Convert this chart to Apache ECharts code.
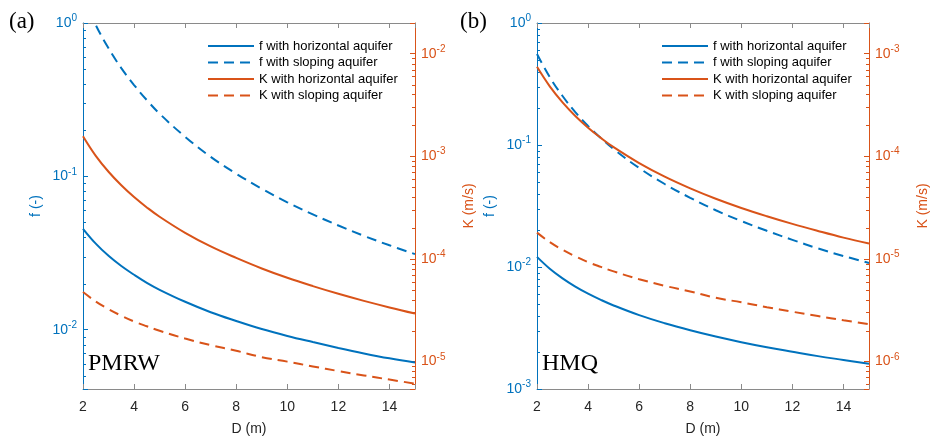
<!DOCTYPE html>
<html>
<head>
<meta charset="utf-8">
<script src="https://cdn.jsdelivr.net/npm/echarts@6/dist/echarts.min.js"></script>
<style>html,body{margin:0;padding:0;background:#fff}#main{width:931px;height:441px}</style>
</head>
<body>
<div id="main"></div>
<script>
var D = [2, 2.5, 3, 3.5, 4, 4.5, 5, 6, 7, 8, 9, 10, 11, 12, 13, 14, 15];

// (a) PMRW
var fHorA = [0.0455, 0.0364, 0.0303, 0.0260, 0.0228, 0.0202, 0.0182, 0.0152, 0.0130, 0.0114, 0.0101, 0.0091, 0.0083, 0.0076, 0.0070, 0.0065, 0.0061];
var fSlopeA = [1.49, 0.97, 0.684, 0.508, 0.394, 0.314, 0.256, 0.181, 0.134, 0.104, 0.083, 0.0677, 0.0565, 0.0478, 0.0409, 0.0355, 0.0311];
var kHorA = [1.57e-3, 1.01e-3, 7.06e-4, 5.21e-4, 4.00e-4, 3.17e-4, 2.57e-4, 1.79e-4, 1.32e-4, 1.02e-4, 8.05e-5, 6.53e-5, 5.42e-5, 4.56e-5, 3.89e-5, 3.36e-5, 2.93e-5];
var kSlopeA = [4.74e-5, 3.84e-5, 3.23e-5, 2.79e-5, 2.45e-5, 2.20e-5, 1.99e-5, 1.67e-5, 1.44e-5, 1.27e-5, 1.10e-5, 9.95e-6, 8.93e-6, 8.05e-6, 7.30e-6, 6.65e-6, 6.07e-6];

// (b) HMQ
var fHorB = [0.0121, 0.00968, 0.00807, 0.00691, 0.00605, 0.00538, 0.00484, 0.00403, 0.00346, 0.00303, 0.00269, 0.00242, 0.00220, 0.00202, 0.00186, 0.00173, 0.00161];
var fSlopeB = [0.557, 0.360, 0.252, 0.186, 0.143, 0.114, 0.0925, 0.0648, 0.0479, 0.0369, 0.0292, 0.0238, 0.0198, 0.0167, 0.0142, 0.0123, 0.0108];
var kHorB = [7.44e-4, 4.80e-4, 3.35e-4, 2.47e-4, 1.90e-4, 1.51e-4, 1.225e-4, 8.57e-5, 6.32e-5, 4.86e-5, 3.85e-5, 3.13e-5, 2.60e-5, 2.19e-5, 1.87e-5, 1.61e-5, 1.41e-5];
var kSlopeB = [1.80e-5, 1.455e-5, 1.224e-5, 1.057e-5, 9.29e-6, 8.34e-6, 7.54e-6, 6.33e-6, 5.46e-6, 4.81e-6, 4.17e-6, 3.77e-6, 3.38e-6, 3.05e-6, 2.77e-6, 2.52e-6, 2.30e-6];

var names = ['f with horizontal aquifer', 'f with sloping aquifer', 'K with horizontal aquifer', 'K with sloping aquifer'];
var panelTags = ['(a)', '(b)'];
var methods = ['PMRW', 'HMQ'];

// minor log ticks: mantissas and the decades each axis covers
var mant = [2, 3, 4, 5, 6, 7, 8, 9];
var decFA = [-3, -2, -1], decKA = [-6, -5, -4, -3, -2];
var decFB = [-3, -2, -1], decKB = [-7, -6, -5, -4, -3];

var BLUE = '#0072BD', ORANGE = '#D95319', GREY = '#8a8a8a';
var SANS = 'Liberation Sans, Arial, sans-serif';

var myChart = echarts.init(document.getElementById('main'));

function pow10Label(v) {
    var l = Math.log10(v), e = Math.round(l);
    if (Math.abs(l - e) > 1e-6) return '';
    return '{b|10}{s|' + e + '}';
}

function xAx(grid, pos) {
    var top = pos === 'top';
    return {
        type: 'value', gridIndex: grid, position: pos, min: 2, max: 15, interval: 2,
        name: top ? '' : 'D (m)', nameLocation: 'middle', nameGap: 33,
        nameTextStyle: {color: '#262626', fontSize: 14, fontFamily: SANS},
        axisLine: {show: true, lineStyle: {color: GREY, width: 1}},
        axisTick: {show: true, inside: true, length: 5, lineStyle: {color: GREY}},
        axisLabel: {show: !top, color: '#262626', fontSize: 14, fontFamily: SANS, margin: 11,
            formatter: function (v) { return v % 2 === 0 ? v : ''; }},
        splitLine: {show: false}
    };
}

function yAx(grid, pos, lo, hi, color, name, gap) {
    return {
        type: 'log', gridIndex: grid, position: pos, min: Math.pow(10, lo), max: Math.pow(10, hi),
        name: name, nameLocation: 'middle', nameGap: gap, nameRotate: 90,
        nameTextStyle: {color: color, fontSize: 14, fontFamily: SANS},
        axisLine: {show: true, lineStyle: {color: color, width: 1}},
        axisTick: {show: true, inside: true, length: 5, lineStyle: {color: color}},
        axisLabel: {color: color, margin: 6, formatter: pow10Label,
            rich: {
                b: {fontSize: 14, fontFamily: SANS, color: color},
                s: {fontSize: 10, fontFamily: SANS, color: color, padding: [0, 0, 9, 0]}
            }},
        splitLine: {show: false}
    };
}

function line(name, data, xi, yi, color, dashed) {
    return {
        name: name, type: 'line', xAxisIndex: xi, yAxisIndex: yi,
        data: D.map(function (d, i) { return [d, data[i]]; }),
        smooth: 0.4, symbol: 'none', clip: true, z: 3,
        lineStyle: {color: color, width: 2, type: dashed ? [10, 6] : 'solid'},
        itemStyle: {color: color}
    };
}

function minorTicks(xi, yi, decades, edgeX, color) {
    var vals = [];
    decades.forEach(function (e) {
        mant.forEach(function (m) { vals.push([edgeX, m * Math.pow(10, e)]); });
    });
    var dir = edgeX === 2 ? 1 : -1;
    return {
        type: 'custom', xAxisIndex: xi, yAxisIndex: yi, data: vals, clip: true, z: 2,
        silent: true,
        renderItem: function (params, api) {
            var p = api.coord([api.value(0), api.value(1)]);
            var y = Math.round(p[1]) + 0.5;
            return {type: 'line', shape: {x1: p[0], y1: y, x2: p[0] + dir * 3, y2: y},
                style: {stroke: color, lineWidth: 1}};
        }
    };
}

function legend(left) {
    return {
        data: names, orient: 'vertical', left: left, top: 39, padding: 0,
        itemWidth: 46, itemHeight: 14, itemGap: 2.5, itemTextGap: 6,
        itemStyle: {opacity: 0},
        textStyle: {fontSize: 13, fontFamily: SANS, color: '#000', lineHeight: 14},
        selectedMode: false
    };
}

var option = {
    backgroundColor: '#fff',
    animation: false,
    grid: [
        {left: 83, top: 23, width: 332, height: 370},
        {left: 537, top: 23, width: 333, height: 370}
    ],
    xAxis: [xAx(0, 'bottom'), xAx(0, 'top'), xAx(1, 'bottom'), xAx(1, 'top')],
    yAxis: [
        yAx(0, 'left', -2.387, 0, BLUE, 'f (-)', 40),
        yAx(0, 'right', -5.269, -1.701, ORANGE, 'K (m/s)', 47),
        yAx(1, 'left', -3, 0, BLUE, 'f (-)', 40),
        yAx(1, 'right', -6.269, -2.701, ORANGE, 'K (m/s)', 47)
    ],
    legend: [legend(207), legend(661)],
    graphic: [
        {type: 'text', left: 9, top: 10, style: {text: panelTags[0], font: '23px Liberation Serif', fill: '#000'}},
        {type: 'text', left: 460, top: 10, style: {text: panelTags[1], font: '23px Liberation Serif', fill: '#000'}},
        {type: 'text', left: 88, top: 352, style: {text: methods[0], font: '24px Liberation Serif', fill: '#000'}},
        {type: 'text', left: 542, top: 352, style: {text: methods[1], font: '24px Liberation Serif', fill: '#000'}}
    ],
    series: [
        line(names[0], fHorA, 0, 0, BLUE, false),
        line(names[1], fSlopeA, 0, 0, BLUE, true),
        line(names[2], kHorA, 0, 1, ORANGE, false),
        line(names[3], kSlopeA, 0, 1, ORANGE, true),
        line(names[0], fHorB, 2, 2, BLUE, false),
        line(names[1], fSlopeB, 2, 2, BLUE, true),
        line(names[2], kHorB, 2, 3, ORANGE, false),
        line(names[3], kSlopeB, 2, 3, ORANGE, true),
        minorTicks(0, 0, decFA, 2, BLUE),
        minorTicks(0, 1, decKA, 15, ORANGE),
        minorTicks(2, 2, decFB, 2, BLUE),
        minorTicks(2, 3, decKB, 15, ORANGE)
    ]
};

option && myChart.setOption(option);
</script>
</body>
</html>
